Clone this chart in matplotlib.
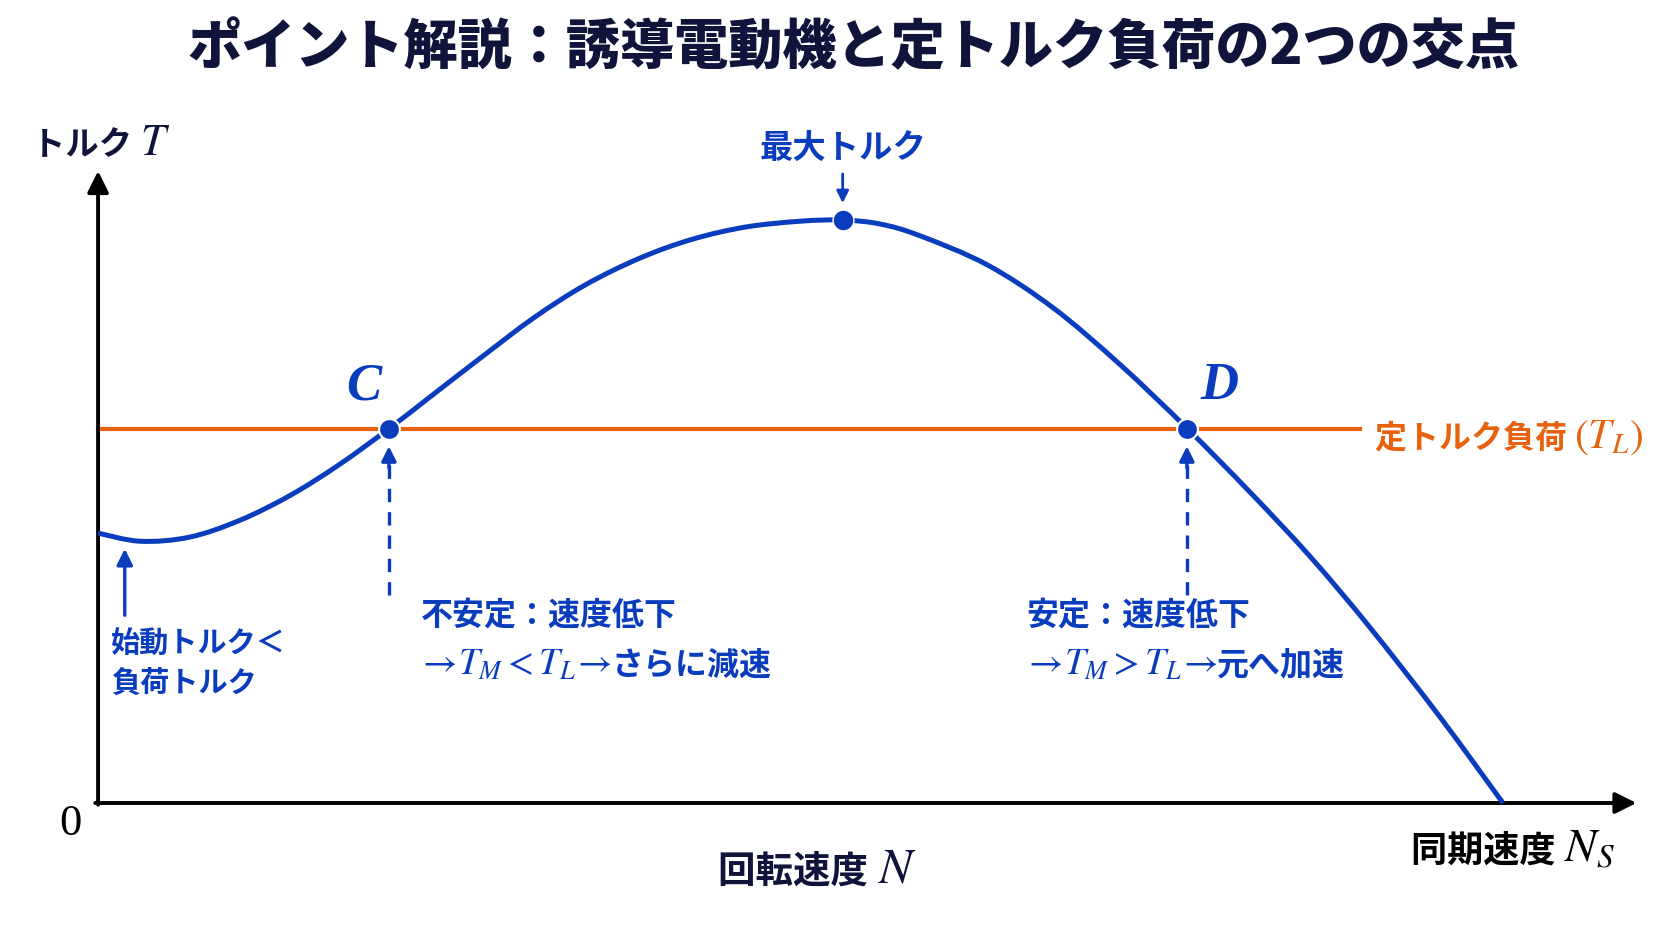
# 誘導電動機のトルク特性と定トルク負荷の交点 (C: 不安定, D: 安定)

import numpy as np
import matplotlib.pyplot as plt
from matplotlib.path import Path
from matplotlib.patches import PathPatch
from matplotlib.offsetbox import TextArea, HPacker, AnnotationBbox

plt.rcParams['font.family'] = ['Noto Sans CJK JP', 'DejaVu Sans']
plt.rcParams['mathtext.fontset'] = 'stix'

# 回転速度 N (同期速度 Ns = 1) とモータトルク T_M (最大トルク = 1), 図から読み取り
N = [0.0, 0.030, 0.065, 0.101, 0.137, 0.172, 0.207, 0.236, 0.272, 0.310,
     0.347, 0.386, 0.423, 0.461, 0.500, 0.530, 0.557, 0.585, 0.633, 0.680,
     0.727, 0.775, 0.820, 0.863, 0.905, 0.955, 1.0]
T_M = [0.463, 0.449, 0.456, 0.485, 0.528, 0.581, 0.642, 0.696, 0.763, 0.832,
       0.889, 0.935, 0.967, 0.988, 0.998, 1.0, 0.993, 0.973, 0.923, 0.849,
       0.753, 0.643, 0.533, 0.422, 0.302, 0.148, 0.0]

T_L = 0.642        # 定トルク負荷
N_load_end = 0.898 # 負荷線の右端
N_C = 0.207        # 交点C
N_D = 0.775        # 交点D
N_max = 0.530      # 最大トルクの速度
T_max = 1.0

blue = '#0a3cbe'
orange = '#e8620e'
navy = '#10143a'


def smooth_path(x, y):
    # 読み取り点を通る滑らかな線 (Catmull-Rom -> Bezier)
    p = np.column_stack([x, y])
    verts = [p[0]]
    codes = [Path.MOVETO]
    for i in range(len(p) - 1):
        p0 = p[max(i - 1, 0)]
        p3 = p[min(i + 2, len(p) - 1)]
        c1 = p[i] + (p[i + 1] - p0) / 6
        c2 = p[i + 1] - (p3 - p[i]) / 6
        verts += [c1, c2, p[i + 1]]
        codes += [Path.CURVE4] * 3
    return Path(verts, codes)


def rich(ax, x, y, parts, align=(0, 0.5)):
    # 大きさの違う文字を横に並べる
    boxes = [TextArea(s, textprops=kw) for s, kw in parts]
    pack = HPacker(children=boxes, align='baseline', pad=0, sep=0)
    ab = AnnotationBbox(pack, (x, y), xycoords='data', box_alignment=align, frameon=False, pad=0)
    ax.add_artist(ab)


fig = plt.figure(figsize=(16.72, 9.41), dpi=100)
ax = fig.add_axes([0, 0, 1, 1])
ax.set_xlim(-0.0698, 1.1203)
ax.set_ylim(-0.2367, 1.3774)
ax.axis('off')

# 座標軸
ax.annotate('', xy=(0, 1.084), xytext=(0, -0.003),
            arrowprops=dict(arrowstyle='-|>', lw=2.8, color='black', mutation_scale=32, shrinkA=0, shrinkB=0))
ax.annotate('', xy=(1.095, 0), xytext=(-0.002, 0),
            arrowprops=dict(arrowstyle='-|>', lw=2.8, color='black', mutation_scale=32, shrinkA=0, shrinkB=0))

# 負荷線とトルク曲線
ax.plot([0, N_load_end], [T_L, T_L], color=orange, lw=3.0, zorder=2)
ax.add_patch(PathPatch(smooth_path(N, T_M), fill=False, edgecolor=blue, lw=3.6,
                       capstyle='butt', joinstyle='round', zorder=3))

# 点
ax.plot([N_C, N_D], [T_L, T_L], 'o', color=blue, ms=15, mec='white', mew=1.5, zorder=5)
ax.plot([N_max], [T_max], 'o', color=blue, ms=15, mec='white', mew=1.0, zorder=5)

# 矢印
ax.annotate('', xy=(N_max, 1.029), xytext=(N_max, 1.079),
            arrowprops=dict(arrowstyle='-|>', lw=2.0, color=blue, mutation_scale=18, shrinkA=0, shrinkB=0))
ax.annotate('', xy=(0.019, 0.436), xytext=(0.019, 0.322),
            arrowprops=dict(arrowstyle='-|>', lw=2.4, color=blue, mutation_scale=24, shrinkA=0, shrinkB=0))
for n in (N_C, N_D):
    ax.plot([n, n], [0.357, 0.585], color=blue, lw=2.4, ls=(0, (4, 3)))
    ax.annotate('', xy=(n, 0.612), xytext=(n, 0.575),
                arrowprops=dict(arrowstyle='-|>', lw=2.4, color=blue, mutation_scale=22, shrinkA=0, shrinkB=0))

# テキスト
fig.text(853 / 1672, 1 - 48 / 941, 'ポイント解説：誘導電動機と定トルク負荷の2つの交点',
         ha='center', va='center', fontsize=39, fontweight='heavy', color=navy)

cjk = lambda size, color: dict(fontsize=size, fontweight='bold', color=color)
mth = lambda size, color: dict(fontsize=size, color=color)

rich(ax, -0.047, 1.134, [('トルク ', cjk(24, navy)), (r'$T$', mth(32, navy))])
ax.text(-0.020, -0.036, '0', ha='center', va='center', fontsize=32, family='Liberation Serif', color='black')
rich(ax, 0.512, -0.113, [('回転速度 ', cjk(27, navy)), (r'$N$', mth(36, navy))], align=(0.5, 0.5))
rich(ax, 1.007, -0.077, [('同期速度 ', cjk(26, 'black')), (r'$N_S$', mth(34, 'black'))], align=(0.5, 0.5))

ax.text(N_max, 1.122, '最大トルク', ha='center', va='center', fontsize=24, fontweight='bold', color=blue)
ax.text(0.189, 0.715, 'C', ha='center', va='center', fontsize=38, family='Liberation Serif',
        style='italic', fontweight='bold', color=blue)
ax.text(0.798, 0.715, 'D', ha='center', va='center', fontsize=38, family='Liberation Serif',
        style='italic', fontweight='bold', color=blue)
rich(ax, 0.909, 0.629, [('定トルク負荷 ', cjk(23, orange)), (r'$(T_L)$', mth(30, orange))])

ax.text(0.009, 0.274, '始動トルク＜', ha='left', va='center', fontsize=21, fontweight='bold', color=blue)
ax.text(0.009, 0.206, '負荷トルク', ha='left', va='center', fontsize=21, fontweight='bold', color=blue)

ax.text(0.230, 0.322, '不安定：速度低下', ha='left', va='center', fontsize=23, fontweight='bold', color=blue)
rich(ax, 0.227, 0.238, [(r'$\rightarrow\! T_M < T_L\! \rightarrow$', mth(27, blue)), ('さらに減速', cjk(23, blue))])
ax.text(0.661, 0.322, '安定：速度低下', ha='left', va='center', fontsize=23, fontweight='bold', color=blue)
rich(ax, 0.658, 0.238, [(r'$\rightarrow\! T_M > T_L\! \rightarrow$', mth(27, blue)), ('元へ加速', cjk(23, blue))])

fig.savefig('out.png', dpi=100, facecolor='white')
